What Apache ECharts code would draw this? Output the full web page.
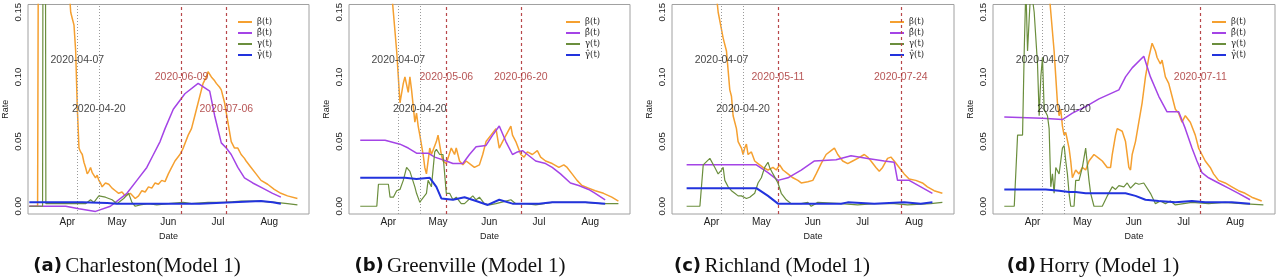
<!DOCTYPE html>
<html><head><meta charset="utf-8">
<script src="https://cdn.jsdelivr.net/npm/echarts@6/dist/echarts.min.js"></script>
<style>html,body{margin:0;padding:0;background:#fff}#c{width:1280px;height:280px}</style>
</head><body><div id="c"></div>
<script>
// ---------- data ----------
const seriesNames = ['β(t)', 'β̂(t)', 'γ(t)', 'γ̂(t)'];
const monthTicks = ['04-01', '05-01', '06-01', '07-01', '08-01'];
const monthLabels = ['Apr', 'May', 'Jun', 'Jul', 'Aug'];
const yTicks = [0, 0.05, 0.10, 0.15];
const yTickLabels = ['0.00', '0.05', '0.10', '0.15'];
const captionLetters = ['(a)', '(b)', '(c)', '(d)'];
const captionNames = ['Charleston(Model 1)', 'Greenville (Model 1)', 'Richland (Model 1)', 'Horry (Model 1)'];

// (a) Charleston
const a_beta = [['03-09',0],['03-14',0],['03-15',0.45],['03-20',0.6],['03-25',0.4],['03-30',0.25],['04-02',0.17],['04-03',0.15],['04-04',0.145],['04-05',0.14],['04-06',0.12],['04-07',0.076],['04-08',0.045],['04-09',0.042],['04-10',0.04],['04-11',0.034],['04-12',0.03],['04-13',0.025],['04-14',0.027],['04-15',0.03],['04-16',0.026],['04-18',0.022],['04-19',0.024],['04-20',0.02],['04-21',0.018],['04-22',0.015],['04-24',0.018],['04-26',0.017],['04-28',0.014],['04-30',0.012],['05-02',0.01],['05-04',0.011],['05-06',0.008],['05-09',0.01],['05-12',0.006],['05-14',0.008],['05-16',0.012],['05-18',0.011],['05-20',0.015],['05-22',0.014],['05-24',0.018],['05-26',0.017],['05-28',0.02],['05-30',0.019],['06-01',0.025],['06-03',0.03],['06-05',0.035],['06-08',0.04],['06-10',0.045],['06-13',0.055],['06-15',0.06],['06-17',0.07],['06-19',0.08],['06-20',0.085],['06-22',0.095],['06-24',0.1],['06-25',0.104],['06-27',0.1],['06-29',0.097],['06-30',0.095],['07-02',0.092],['07-03',0.09],['07-05',0.08],['07-07',0.065],['07-09',0.05],['07-11',0.045],['07-13',0.045],['07-15',0.04],['07-17',0.037],['07-18',0.035],['07-21',0.03],['07-24',0.025],['07-27',0.02],['07-31',0.017],['08-04',0.013],['08-08',0.01],['08-12',0.008],['08-18',0.006]];
const a_betaHat = [['03-09',0],['03-31',0],['04-08',-0.002],['04-18',-0.004],['04-27',0],['05-07',0.01],['05-13',0.02],['05-19',0.03],['05-23',0.04],['05-27',0.05],['05-30',0.06],['06-04',0.075],['06-11',0.087],['06-19',0.095],['06-26',0.089],['06-29',0.07],['07-03',0.049],['07-06',0.045],['07-09',0.04],['07-13',0.03],['07-17',0.022],['07-22',0.018],['07-28',0.014],['08-03',0.01],['08-08',0.007]];
const a_gamma = [['03-09',0],['03-17',0],['03-18',0.8],['03-19',0.002],['04-05',0.002],['04-12',0.002],['04-15',0.005],['04-17',0.003],['04-20',0.008],['04-24',0.007],['04-28',0.005],['05-01',0.002],['05-05',0.006],['05-08',0.01],['05-10',0.003],['05-12',0],['05-15',0.001],['05-20',0.002],['05-25',0.001],['06-01',0.002],['06-10',0.003],['06-15',0.002],['06-25',0.003],['07-05',0.003],['07-15',0.004],['07-25',0.004],['08-05',0.003],['08-12',0.002],['08-18',0.001]];
const a_gammaHat = [['03-09',0.003],['04-10',0.003],['04-25',0.0025],['05-01',0.002],['06-01',0.002],['06-20',0.002],['07-10',0.003],['07-27',0.004],['08-03',0.003],['08-08',0.002]];
const a_lockDates = ['04-07', '04-20'];
const a_lockY = [0.113, 0.075];
const a_changeDates = ['06-09', '07-06'];
const a_changeY = [0.10, 0.075];

// (b) Greenville
const b_beta = [['03-15',0.5],['03-20',0.4],['03-25',0.3],['03-30',0.22],['04-02',0.18],['04-04',0.15],['04-06',0.12],['04-07',0.1],['04-08',0.08],['04-10',0.095],['04-11',0.1],['04-13',0.088],['04-14',0.1],['04-15',0.09],['04-17',0.065],['04-18',0.072],['04-19',0.062],['04-20',0.055],['04-22',0.04],['04-23',0.03],['04-24',0.025],['04-26',0.045],['04-27',0.04],['04-30',0.05],['05-01',0.055],['05-03',0.04],['05-04',0.035],['05-06',0.033],['05-09',0.045],['05-11',0.04],['05-12',0.045],['05-14',0.035],['05-16',0.032],['05-18',0.035],['05-21',0.032],['05-23',0.03],['05-26',0.032],['05-28',0.04],['05-30',0.05],['06-02',0.055],['06-05',0.06],['06-07',0.045],['06-09',0.05],['06-14',0.062],['06-15',0.055],['06-17',0.05],['06-20',0.04],['06-22',0.038],['06-24',0.042],['06-27',0.04],['06-30',0.043],['07-02',0.038],['07-05',0.035],['07-09',0.033],['07-13',0.03],['07-16',0.032],['07-18',0.03],['07-21',0.025],['07-24',0.02],['07-27',0.016],['07-31',0.014],['08-04',0.012],['08-09',0.01],['08-14',0.007],['08-18',0.004]];
const b_betaHat = [['03-15',0.051],['03-30',0.051],['04-08',0.048],['04-13',0.045],['04-18',0.041],['04-25',0.041],['04-29',0.038],['05-06',0.035],['05-10',0.033],['05-16',0.033],['05-20',0.04],['05-24',0.046],['05-30',0.047],['06-03',0.055],['06-07',0.062],['06-11',0.05],['06-15',0.04],['06-18',0.042],['06-21',0.043],['06-24',0.04],['06-29',0.035],['07-05',0.033],['07-09',0.03],['07-14',0.025],['07-20',0.018],['07-25',0.016],['07-31',0.013],['08-04',0.01],['08-10',0.005]];
const b_gamma = [['03-15',0],['03-25',0],['03-26',0.017],['04-01',0.017],['04-02',0.007],['04-04',0.007],['04-06',0.012],['04-08',0.013],['04-10',0.02],['04-12',0.03],['04-14',0.027],['04-15',0.028],['04-17',0.015],['04-18',0.01],['04-20',0.003],['04-21',0.005],['04-22',0.005],['04-24',0.01],['04-25',0.02],['04-27',0.015],['04-29',0.042],['04-30',0.044],['05-02',0.04],['05-04',0.04],['05-06',0.01],['05-08',0.01],['05-10',0.005],['05-12',0.007],['05-15',0.002],['05-17',0.002],['05-22',0.008],['05-24',0.005],['05-26',0.007],['05-29',0.002],['06-01',0.001],['06-05',0.002],['06-11',0.004],['06-14',0.005],['06-17',0.002],['06-23',0.002],['06-29',0.001],['07-09',0.003],['07-19',0.003],['07-29',0.003],['08-08',0.002],['08-18',0.002]];
const b_gammaHat = [['03-15',0.022],['04-11',0.022],['04-18',0.021],['04-26',0.022],['04-30',0.015],['05-03',0.006],['05-10',0.005],['05-17',0.007],['05-24',0.004],['05-31',0.001],['06-07',0.005],['06-15',0.002],['06-23',0.002],['07-01',0.002],['07-09',0.003],['07-21',0.003],['07-29',0.003],['08-10',0.002]];
const b_lockDates = ['04-07', '04-20'];
const b_lockY = [0.113, 0.075];
const b_changeDates = ['05-06', '06-20'];
const b_changeY = [0.10, 0.10];

// (c) Richland
const c_beta = [['03-17',0.5],['03-25',0.35],['04-01',0.2],['04-05',0.15],['04-08',0.13],['04-10',0.12],['04-12',0.09],['04-13',0.085],['04-14',0.07],['04-16',0.06],['04-17',0.05],['04-19',0.045],['04-20',0.04],['04-21',0.045],['04-22',0.048],['04-23',0.04],['04-25',0.042],['04-27',0.035],['04-29',0.033],['05-02',0.03],['05-05',0.028],['05-08',0.03],['05-10',0.028],['05-12',0.032],['05-14',0.028],['05-17',0.025],['05-20',0.022],['05-23',0.02],['05-25',0.018],['05-29',0.019],['06-01',0.02],['06-03',0.025],['06-06',0.033],['06-09',0.04],['06-12',0.043],['06-14',0.045],['06-16',0.04],['06-19',0.035],['06-22',0.033],['06-25',0.035],['06-28',0.037],['07-02',0.04],['07-04',0.038],['07-06',0.035],['07-09',0.03],['07-11',0.027],['07-13',0.03],['07-16',0.037],['07-18',0.038],['07-20',0.035],['07-23',0.03],['07-26',0.025],['07-29',0.021],['08-02',0.02],['08-06',0.018],['08-09',0.015],['08-13',0.012],['08-18',0.01]];
const c_betaHat = [['03-17',0.032],['04-28',0.032],['05-05',0.026],['05-11',0.02],['05-17',0.022],['05-25',0.028],['06-02',0.035],['06-15',0.036],['06-24',0.039],['07-04',0.037],['07-14',0.035],['07-20',0.034],['07-22',0.02],['07-29',0.02],['08-05',0.015],['08-12',0.01]];
const c_gamma = [['03-17',0],['03-25',0],['03-27',0.032],['03-31',0.037],['04-03',0.03],['04-05',0.025],['04-07',0.028],['04-08',0.03],['04-09',0.02],['04-11',0.015],['04-13',0.012],['04-15',0.01],['04-17',0.008],['04-19',0.008],['04-22',0.006],['04-24',0.007],['04-27',0.01],['04-29',0.018],['05-01',0.022],['05-03',0.03],['05-05',0.034],['05-06',0.03],['05-08',0.025],['05-11',0.018],['05-13',0.01],['05-16',0.005],['05-19',0.002],['05-25',0.002],['05-29',0.003],['05-31',0],['06-04',0.003],['06-18',0.002],['06-28',0.001],['07-08',0.002],['07-20',0.002],['07-28',0.001],['08-11',0.002],['08-18',0.003]];
const c_gammaHat = [['03-17',0.014],['04-28',0.014],['05-05',0.008],['05-11',0.002],['05-29',0.002],['06-18',0.002],['06-22',0.003],['07-08',0.002],['07-26',0.003],['08-05',0.002],['08-12',0.003]];
const c_lockDates = ['04-07', '04-20'];
const c_lockY = [0.113, 0.075];
const c_changeDates = ['05-11', '07-24'];
const c_changeY = [0.10, 0.10];

// (d) Horry
const d_beta = [['03-15',0.6],['03-25',0.5],['04-01',0.35],['04-07',0.25],['04-10',0.18],['04-12',0.15],['04-14',0.12],['04-15',0.1],['04-16',0.08],['04-17',0.07],['04-18',0.075],['04-19',0.062],['04-20',0.055],['04-21',0.057],['04-22',0.058],['04-23',0.045],['04-24',0.035],['04-25',0.022],['04-27',0.028],['04-29',0.025],['05-01',0.03],['05-03',0.028],['05-05',0.035],['05-08',0.04],['05-11',0.037],['05-13',0.035],['05-16',0.03],['05-18',0.03],['05-19',0.04],['05-21',0.055],['05-22',0.06],['05-25',0.058],['05-27',0.05],['05-29',0.03],['05-30',0.028],['05-31',0.04],['06-02',0.05],['06-04',0.065],['06-06',0.08],['06-08',0.1],['06-10',0.115],['06-12',0.126],['06-14',0.12],['06-15',0.115],['06-17',0.11],['06-18',0.113],['06-20',0.1],['06-22',0.095],['06-24',0.085],['06-26',0.075],['06-28',0.072],['06-30',0.065],['07-02',0.07],['07-03',0.071],['07-05',0.065],['07-08',0.055],['07-10',0.045],['07-12',0.04],['07-14',0.035],['07-17',0.03],['07-19',0.025],['07-22',0.02],['07-26',0.018],['07-30',0.015],['08-03',0.012],['08-07',0.01],['08-11',0.007],['08-17',0.004]];
const d_betaHat = [['03-15',0.069],['04-07',0.068],['04-19',0.067],['04-25',0.072],['05-03',0.077],['05-11',0.083],['05-23',0.09],['05-27',0.1],['05-31',0.107],['06-07',0.116],['06-11',0.1],['06-16',0.085],['06-21',0.073],['06-28',0.073],['07-02',0.06],['07-06',0.045],['07-09',0.035],['07-12',0.026],['07-16',0.022],['07-22',0.018],['07-28',0.014],['08-03',0.01],['08-10',0.005]];
const d_gamma = [['03-15',0],['03-21',0],['03-23',0.055],['03-26',0.055],['03-27',0.12],['03-28',0.17],['03-29',0.12],['03-31',0.17],['04-02',0.15],['04-04',0.11],['04-05',0.07],['04-06',0.1],['04-07',0.115],['04-08',0.075],['04-10',0.07],['04-11',0.06],['04-12',0.015],['04-13',0.025],['04-14',0.01],['04-15',0.03],['04-17',0.025],['04-19',0.045],['04-20',0.047],['04-21',0.035],['04-22',0.025],['04-23',0.01],['04-24',0],['04-26',0],['04-27',0.02],['04-29',0.02],['05-01',0.03],['05-03',0.045],['05-05',0.02],['05-06',0.01],['05-08',0],['05-13',0],['05-16',0.008],['05-19',0.015],['05-21',0.013],['05-23',0.016],['05-26',0.015],['05-28',0.018],['05-30',0.014],['06-02',0.018],['06-04',0.017],['06-07',0.018],['06-11',0.01],['06-14',0.002],['06-17',0.004],['06-20',0.002],['06-23',0.004],['06-26',0.001],['07-06',0.003],['07-16',0.002],['07-26',0.003],['08-05',0.002],['08-18',0.001]];
const d_gammaHat = [['03-15',0.013],['04-09',0.013],['04-17',0.012],['04-23',0.011],['04-27',0.011],['05-03',0.01],['05-15',0.01],['05-27',0.01],['06-02',0.008],['06-08',0.005],['06-16',0.004],['06-26',0.003],['07-06',0.004],['07-14',0.003],['07-22',0.003],['07-30',0.003],['08-10',0.002]];
const d_lockDates = ['04-07', '04-20'];
const d_lockY = [0.113, 0.075];
const d_changeDates = ['07-11'];
const d_changeY = [0.10];

// ---------- build ----------
const ts = md => { const [m, d] = md.split('-').map(Number); return Date.UTC(2020, m - 1, d); };
const conv = arr => arr.map(p => [ts(p[0]), p[1]]);
const DAY = 86400000;
const xMin = Date.UTC(2020, 3, 1) - 23.8 * DAY;
const xMax = Date.UTC(2020, 3, 1) + 146 * DAY;

const panels = [
  {beta: a_beta, betaHat: a_betaHat, gamma: a_gamma, gammaHat: a_gammaHat, lock: a_lockDates, lockY: a_lockY, chg: a_changeDates, chgY: a_changeY},
  {beta: b_beta, betaHat: b_betaHat, gamma: b_gamma, gammaHat: b_gammaHat, lock: b_lockDates, lockY: b_lockY, chg: b_changeDates, chgY: b_changeY},
  {beta: c_beta, betaHat: c_betaHat, gamma: c_gamma, gammaHat: c_gammaHat, lock: c_lockDates, lockY: c_lockY, chg: c_changeDates, chgY: c_changeY},
  {beta: d_beta, betaHat: d_betaHat, gamma: d_gamma, gammaHat: d_gammaHat, lock: d_lockDates, lockY: d_lockY, chg: d_changeDates, chgY: d_changeY}
];

const gridLeft = [26, 349, 672, 993];
const gridWidth = [283, 281, 282, 282];
const legendLeft = [233, 561, 885, 1207];
const captionX = [137, 460, 772, 1093];
const colors = ['#f5a030', '#a444e6', '#6b8e3d', '#2233dd'];
const widths = [1.5, 1.5, 1.2, 2];
const FONT = 'Liberation Sans';

const grid = [], xAxis = [], yAxis = [], series = [], legend = [], graphic = [];
const monthVals = monthTicks.map(ts);

panels.forEach((p, i) => {
  grid.push({left: gridLeft[i], top: 2, width: gridWidth[i], height: 212, show: true, borderColor: '#a0a0a0', borderWidth: 1, containLabel: false});
  xAxis.push({
    type: 'value', gridIndex: i, min: xMin, max: xMax,
    axisLine: {show: false}, axisTick: {show: false}, splitLine: {show: false},
    axisLabel: {customValues: monthVals, formatter: v => monthLabels[monthVals.indexOf(v)] || '', fontFamily: FONT, fontSize: 10, color: '#222', margin: 3},
    name: 'Date', nameLocation: 'middle', nameGap: 11, nameTextStyle: {fontFamily: FONT, fontSize: 9, color: '#222'}
  });
  yAxis.push({
    type: 'value', gridIndex: i, min: -0.006, max: 0.156,
    axisLine: {show: false}, axisTick: {show: false}, splitLine: {show: false},
    axisLabel: {customValues: yTicks, formatter: v => yTickLabels[yTicks.indexOf(v)] ?? '', rotate: 90, fontFamily: FONT, fontSize: 9.5, color: '#222', margin: 5},
    name: 'Rate', nameLocation: 'middle', nameGap: 18, nameRotate: 90, nameTextStyle: {fontFamily: FONT, fontSize: 9, color: '#222'}
  });
  const lines = [p.beta, p.betaHat, p.gamma, p.gammaHat];
  lines.forEach((arr, k) => {
    const s = {
      type: 'line', name: seriesNames[k], xAxisIndex: i, yAxisIndex: i, data: conv(arr),
      symbol: 'none', showSymbol: false, clip: true, animation: false, color: colors[k],
      lineStyle: {width: widths[k], color: colors[k]}, z: 3 + k
    };
    if (k === 0) {
      s.markLine = {
        silent: true, symbol: 'none', animation: false, label: {show: false},
        data: p.lock.map(d => ({xAxis: ts(d), lineStyle: {type: [1, 2], color: '#9a9a9a', width: 1}}))
          .concat(p.chg.map(d => ({xAxis: ts(d), lineStyle: {type: [3, 3], color: '#b8474a', width: 1.2}})))
      };
    }
    series.push(s);
  });
  const labels = p.lock.map((d, j) => ({value: [ts(d), p.lockY[j], '2020-' + d], label: {color: '#111'}}))
    .concat(p.chg.map((d, j) => ({value: [ts(d), p.chgY[j], '2020-' + d], label: {color: '#a52a2a'}})));
  series.push({
    type: 'scatter', xAxisIndex: i, yAxisIndex: i, data: labels, symbolSize: 1, animation: false, silent: true,
    itemStyle: {color: 'rgba(0,0,0,0)'}, z: 10,
    label: {show: true, position: 'inside', formatter: q => q.value[2], fontFamily: FONT, fontSize: 10.5}
  });
  legend.push({
    left: legendLeft[i], top: 12, orient: 'vertical', itemWidth: 14, itemHeight: 2, itemGap: 1,
    icon: 'rect', selectedMode: false,
    data: seriesNames.map((n, k) => ({name: n, itemStyle: {color: colors[k]}})),
    textStyle: {fontFamily: 'DejaVu Serif', fontSize: 8.5, color: '#222', lineHeight: 10}
  });
  graphic.push({
    type: 'text', x: captionX[i], y: 266,
    style: {
      text: '{b|' + captionLetters[i] + '} {r|' + captionNames[i] + '}',
      align: 'center', verticalAlign: 'middle',
      rich: {
        b: {fontFamily: 'DejaVu Sans', fontWeight: 'bold', fontSize: 18, fill: '#111'},
        r: {fontFamily: 'Liberation Serif', fontSize: 21, fill: '#111'}
      }
    }
  });
});

const chart = echarts.init(document.getElementById('c'), null, {renderer: 'canvas'});
chart.setOption({animation: false, backgroundColor: '#fff', grid, xAxis, yAxis, series, legend, graphic});
</script>
</body></html>
